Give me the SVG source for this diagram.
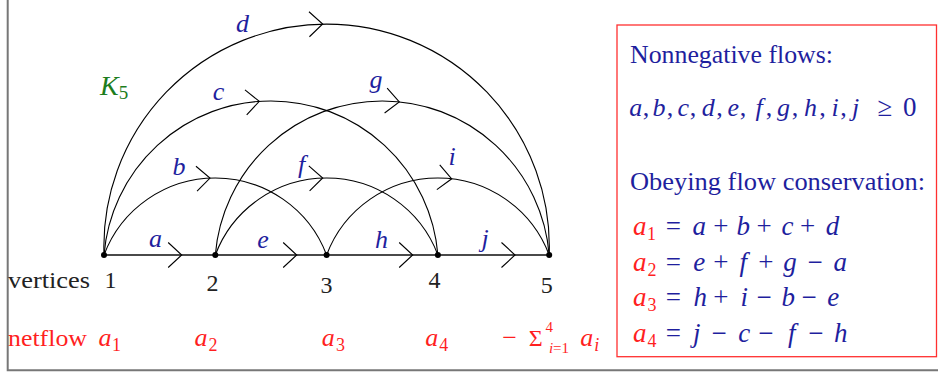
<svg xmlns="http://www.w3.org/2000/svg" xmlns:xlink="http://www.w3.org/1999/xlink" width="938" height="372" viewBox="0 0 938 372">
<style>
text{font-family:"Liberation Serif","Times New Roman",serif;}
.m{font-style:italic;}
.blue{fill:#1f1f9e;}
.red{fill:#ff1f1f;}
.arc{fill:none;stroke:#000;stroke-width:1.1;}
.base{fill:none;stroke:#4a4a4a;stroke-width:1.8;}
.ah{fill:none;stroke:#000;stroke-width:1.1;}
.lbl{font-size:26px;text-anchor:middle;}
.num{font-size:24px;text-anchor:middle;fill:#222;}
.bx{font-size:26px;}
.eq{font-size:27px;}
.sub{font-size:18px;}
.ss{font-size:15px;}
</style>
<defs>
<path id="ah" class="ah" d="M-13.5,-12.5 L0,0 L-13.5,12.5"/>
</defs>
<rect width="938" height="372" fill="#fff"/>
<path d="M7.7,0 V370.2 H938" fill="none" stroke="#777" stroke-width="2"/>

<g id="connectors">
<path class="base" d="M104,255 H549.2"/>
<path id="e-b" class="arc" d="M104,255 A118.94,118.94 0 0 1 326.6,255"/>
<path id="e-f" class="arc" d="M215.3,255 A118.94,118.94 0 0 1 437.9,255"/>
<path id="e-i" class="arc" d="M326.6,255 A118.94,118.94 0 0 1 549.2,255"/>
<path id="e-c" class="arc" d="M104,255 A167.49,167.49 0 0 1 437.9,255"/>
<path id="e-g" class="arc" d="M215.3,255 A167.49,167.49 0 0 1 549.2,255"/>
<path id="e-d" class="arc" d="M104,255 A222.75,222.75 0 1 1 549.2,255"/>
<use xlink:href="#ah" href="#ah" transform="translate(181.7,255)"/>
<use xlink:href="#ah" href="#ah" transform="translate(296.7,255)"/>
<use xlink:href="#ah" href="#ah" transform="translate(412.7,255)"/>
<use xlink:href="#ah" href="#ah" transform="translate(515,255)"/>
<use xlink:href="#ah" href="#ah" transform="translate(210,178.1) rotate(-2.55)"/>
<use xlink:href="#ah" href="#ah" transform="translate(322.7,178) rotate(-1.88)"/>
<use xlink:href="#ah" href="#ah" transform="translate(451.7,178.8) rotate(6.66)"/>
<use xlink:href="#ah" href="#ah" transform="translate(259.3,101.4) rotate(-3.99)"/>
<use xlink:href="#ah" href="#ah" transform="translate(399.3,101.9) rotate(5.84)"/>
<use xlink:href="#ah" href="#ah" transform="translate(322.7,24) rotate(-1)"/>
</g>

<g id="edge-labels" class="lbl m blue">
<text x="155.5" y="247.3">a</text>
<text x="179" y="175">b</text>
<text x="218.5" y="100">c</text>
<text x="242.5" y="31.5">d</text>
<text x="263" y="248">e</text>
<text x="301.5" y="172.5">f</text>
<text x="376" y="88">g</text>
<text x="381.5" y="248.3">h</text>
<text x="452" y="165">i</text>
<text x="485" y="246.7">j</text>
</g>

<g id="title">
<text x="100" y="95" font-size="28" fill="#1d7d1d" font-style="italic">K<tspan font-style="normal" font-size="19" dy="4">5</tspan></text>
</g>

<g id="v1"><circle cx="104" cy="255" r="3"/><text class="num" x="110.5" y="288">1</text></g>
<g id="v2"><circle cx="215.3" cy="255" r="3"/><text class="num" x="212.5" y="291">2</text></g>
<g id="v3"><circle cx="326.6" cy="255" r="3"/><text class="num" x="326.5" y="293">3</text></g>
<g id="v4"><circle cx="437.9" cy="255" r="3"/><text class="num" x="434.5" y="288">4</text></g>
<g id="v5"><circle cx="549.2" cy="255" r="3"/><text class="num" x="546.7" y="293">5</text></g>

<g id="row-labels">
<text x="8" y="287.5" font-size="24" fill="#222" textLength="82" lengthAdjust="spacingAndGlyphs">vertices</text>
<text x="8" y="346" font-size="24" class="red" textLength="79" lengthAdjust="spacingAndGlyphs">netflow</text>
<text class="red" font-size="26" text-anchor="middle"><tspan class="m" x="105" y="346">a</tspan><tspan class="sub" x="116.5" y="351">1</tspan></text>
<text class="red" font-size="26" text-anchor="middle"><tspan class="m" x="201" y="346">a</tspan><tspan class="sub" x="213" y="351">2</tspan></text>
<text class="red" font-size="26" text-anchor="middle"><tspan class="m" x="328.3" y="346">a</tspan><tspan class="sub" x="340.5" y="351">3</tspan></text>
<text class="red" font-size="26" text-anchor="middle"><tspan class="m" x="431.7" y="346">a</tspan><tspan class="sub" x="443.8" y="351">4</tspan></text>
<text class="red" font-size="26" text-anchor="middle" x="509.7" y="346">−</text>
<text class="red" font-size="24" text-anchor="middle" x="535.8" y="346">Σ</text>
<text class="red ss" text-anchor="middle" x="549.2" y="332">4</text>
<text class="red ss" text-anchor="middle" x="559" y="352.5"><tspan class="m">i</tspan>=1</text>
<text class="red" font-size="26" text-anchor="middle"><tspan class="m" x="586.7" y="346">a</tspan><tspan class="sub m" x="596.7" y="351">i</tspan></text>
</g>

<g id="legend">
<rect x="617" y="25" width="319.5" height="331.7" fill="none" stroke="#ff3030" stroke-width="1.3"/>
<text class="bx blue" x="630" y="63.3" textLength="203" lengthAdjust="spacingAndGlyphs">Nonnegative flows:</text>
<text class="bx blue" text-anchor="middle" y="116"><tspan class="m" x="635.8">a</tspan><tspan x="646">,</tspan><tspan class="m" x="659">b</tspan><tspan x="670">,</tspan><tspan class="m" x="683.3">c</tspan><tspan x="693">,</tspan><tspan class="m" x="708.3">d</tspan><tspan x="719.5">,</tspan><tspan class="m" x="733.3">e</tspan><tspan x="743">,</tspan><tspan class="m" x="759">f</tspan><tspan x="769">,</tspan><tspan class="m" x="783.5">g</tspan><tspan x="795">,</tspan><tspan class="m" x="810.5">h</tspan><tspan x="822.5">,</tspan><tspan class="m" x="835">i</tspan><tspan x="843.5">,</tspan><tspan class="m" x="855.7">j</tspan><tspan class="eq" x="885">≥</tspan><tspan class="eq" x="909.7">0</tspan></text>
<text class="bx blue" x="630" y="190" textLength="295" lengthAdjust="spacingAndGlyphs">Obeying flow conservation:</text>
<text class="eq blue" text-anchor="middle" y="235"><tspan class="m red" x="639.7">a</tspan><tspan class="sub red" x="651.5" dy="5">1</tspan><tspan x="673.3" y="235">=</tspan><tspan class="m" x="699.3">a</tspan><tspan x="720.8">+</tspan><tspan class="m" x="743.3">b</tspan><tspan x="764.2">+</tspan><tspan class="m" x="787.5">c</tspan><tspan x="807.5">+</tspan><tspan class="m" x="832.5">d</tspan></text>
<text class="eq blue" text-anchor="middle" y="270.7"><tspan class="m red" x="639.7">a</tspan><tspan class="sub red" x="652" dy="5">2</tspan><tspan x="673.3" y="270.7">=</tspan><tspan class="m" x="699.2">e</tspan><tspan x="720.8">+</tspan><tspan class="m" x="743.3">f</tspan><tspan x="765.8">+</tspan><tspan class="m" x="790">g</tspan><tspan x="815">−</tspan><tspan class="m" x="840.3">a</tspan></text>
<text class="eq blue" text-anchor="middle" y="306"><tspan class="m red" x="639.7">a</tspan><tspan class="sub red" x="652" dy="5">3</tspan><tspan x="673.3" y="306">=</tspan><tspan class="m" x="700.3">h</tspan><tspan x="720.8">+</tspan><tspan class="m" x="744.2">i</tspan><tspan x="764.2">−</tspan><tspan class="m" x="788.3">b</tspan><tspan x="809.2">−</tspan><tspan class="m" x="833.3">e</tspan></text>
<text class="eq blue" text-anchor="middle" y="341.7"><tspan class="m red" x="639.7">a</tspan><tspan class="sub red" x="652" dy="5">4</tspan><tspan x="673.3" y="341.7">=</tspan><tspan class="m" x="696.7">j</tspan><tspan x="719.2">−</tspan><tspan class="m" x="744.2">c</tspan><tspan x="765.8">−</tspan><tspan class="m" x="791.7">f</tspan><tspan x="815.8">−</tspan><tspan class="m" x="840.8">h</tspan></text>
</g>
</svg>
